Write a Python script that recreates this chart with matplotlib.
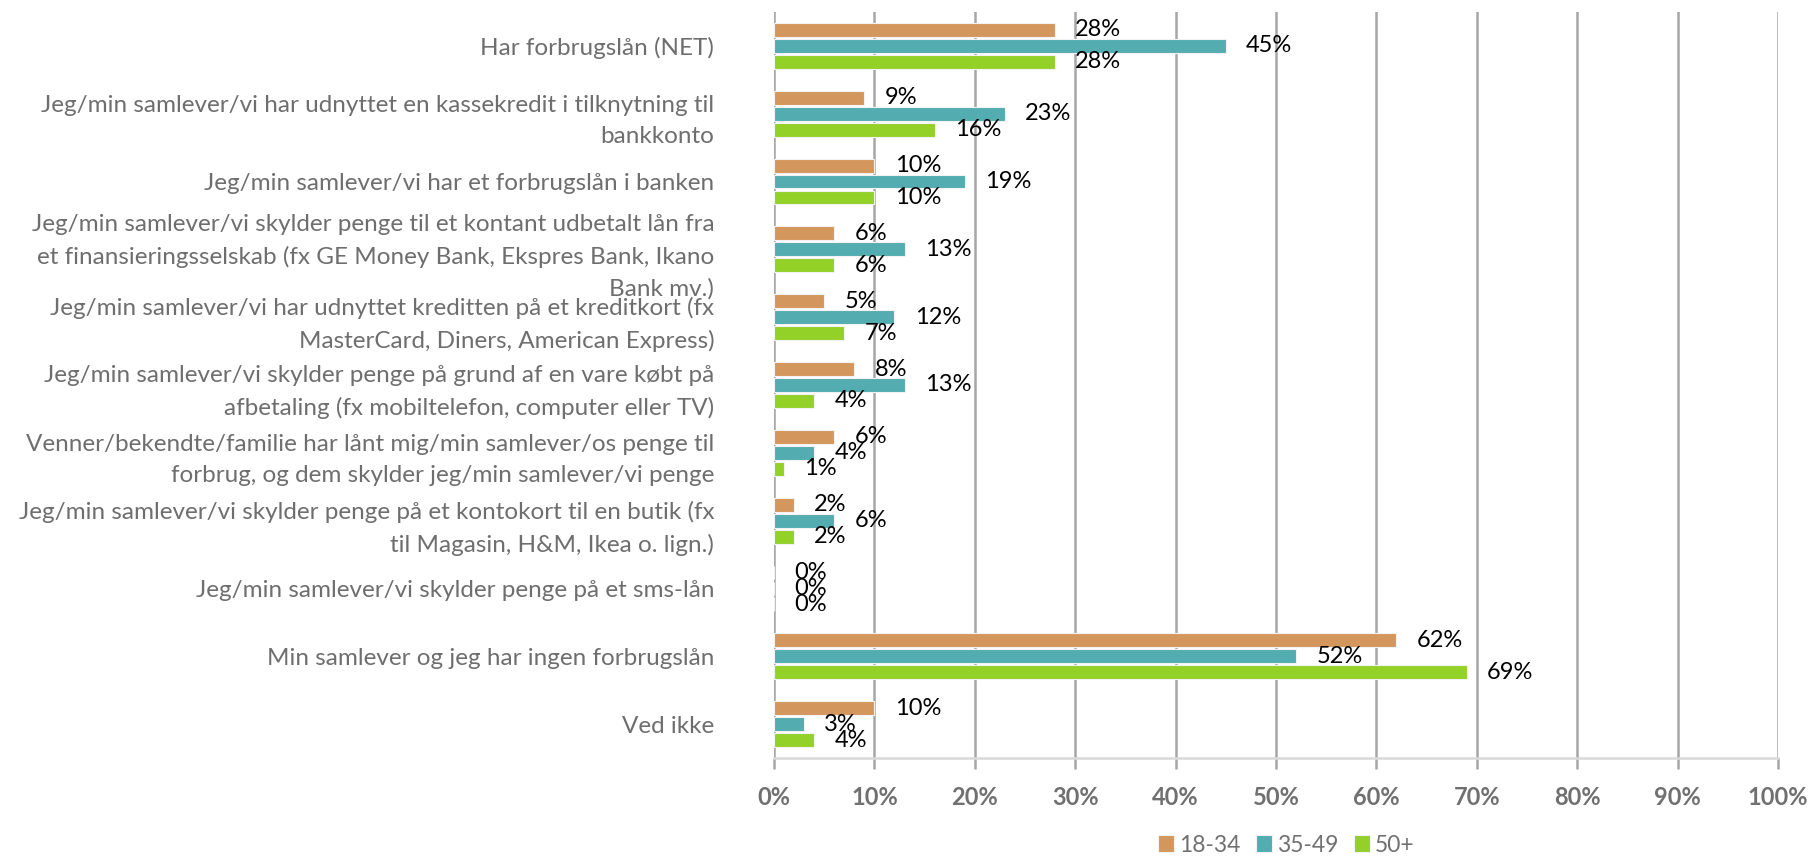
import matplotlib
matplotlib.use("Agg")
import matplotlib.pyplot as plt
import numpy as np

categories = [
    "Har forbrugslån (NET)",
    "Jeg/min samlever/vi har udnyttet en kassekredit i tilknytning til\nbankkonto",
    "Jeg/min samlever/vi har et forbrugslån i banken",
    "Jeg/min samlever/vi skylder penge til et kontant udbetalt lån fra\net finansieringsselskab (fx GE Money Bank, Ekspres Bank, Ikano\nBank mv.)",
    "Jeg/min samlever/vi har udnyttet kreditten på et kreditkort (fx\nMasterCard, Diners, American Express)",
    "Jeg/min samlever/vi skylder penge på grund af en vare købt på\nafbetaling (fx mobiltelefon, computer eller TV)",
    "Venner/bekendte/familie har lånt mig/min samlever/os penge til\nforbrug, og dem skylder jeg/min samlever/vi penge",
    "Jeg/min samlever/vi skylder penge på et kontokort til en butik (fx\ntil Magasin, H&M, Ikea o. lign.)",
    "Jeg/min samlever/vi skylder penge på et sms-lån",
    "Min samlever og jeg har ingen forbrugslån",
    "Ved ikke",
]
series_names = ["18-34", "35-49", "50+"]
v_18_34 = [28, 9, 10, 6, 5, 8, 6, 2, 0, 62, 10]
v_35_49 = [45, 23, 19, 13, 12, 13, 4, 6, 0, 52, 3]
v_50p = [28, 16, 10, 6, 7, 4, 1, 2, 0, 69, 4]
xticks = [0, 10, 20, 30, 40, 50, 60, 70, 80, 90, 100]

colors = ["#D3965C", "#52ACB0", "#93D028"]
font = "Lato"
plt.rcParams['font.family'] = [font, 'DejaVu Sans']

fig = plt.figure(figsize=(18.14, 8.57), dpi=100)
ax = fig.add_axes([774/1814, 1-758/857, (1778-774)/1814, (758-12)/857])

y = np.arange(len(categories))
step = 0.235
h = 0.205
for i, (vals, name, c) in enumerate(zip([v_18_34, v_35_49, v_50p], series_names, colors)):
    pos = y + (i - 1) * step
    ax.barh(pos, vals, height=h, color=c, edgecolor="#F2F2F2", linewidth=0.8, label=name, zorder=3)
    for p, v in zip(pos, vals):
        ax.annotate(f"{v}%", (v, p), xytext=(14.5, 0), textcoords="offset points",
                    ha="left", va="center", fontsize=17, color="black", zorder=4)

ax.set_xlim(0, 100)
ax.set_ylim(len(categories) - 0.5, -0.5)
ax.set_xticks(xticks)
ax.set_xticklabels([f"{t}%" for t in xticks], fontsize=17, fontweight="bold", color="#707070")
ax.set_yticks(y)
ax.set_yticklabels(categories, fontsize=17.5, color="#6E6E6E", linespacing=1.6)
ax.tick_params(axis="y", length=0, pad=43)
ax.tick_params(axis="x", length=8, width=1.8, color="#A6A6A6", pad=12)
ax.grid(axis="x", color="#A6A6A6", linewidth=1.8, zorder=0)
for s in ["top", "right", "left"]:
    ax.spines[s].set_visible(False)
ax.spines["bottom"].set_color("#D9D9D9")
ax.spines["bottom"].set_linewidth(1.8)

leg = fig.legend(loc="center", bbox_to_anchor=((1150+1423)/2/1814, 1-845/857), ncol=3, frameon=False,
                 fontsize=16.5, handlelength=0.7, handleheight=0.7, columnspacing=0.7, handletextpad=0.2,
                 borderpad=0.1)
for t in leg.get_texts():
    t.set_color("#707070")

fig.savefig("out.png", dpi=100)
